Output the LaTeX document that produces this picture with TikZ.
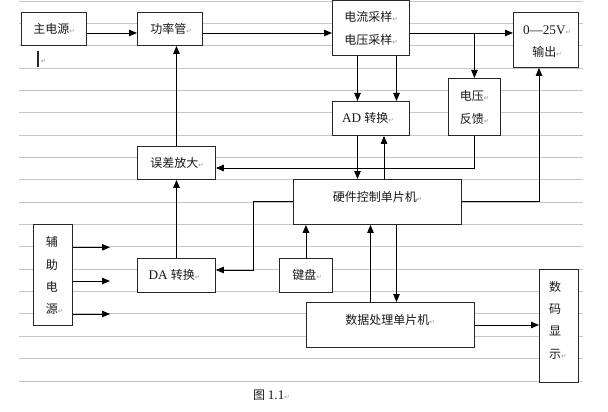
\documentclass[tikz,border=0pt]{standalone}
\usepackage{fontspec}
\setmainfont{Noto Sans CJK SC}
\newfontfamily\lat[Scale=1.1]{Liberation Serif}
\newfontfamily\symf{DejaVu Sans}
\usetikzlibrary{arrows.meta}
\newcommand\pmk{{\symf\fontsize{6.5}{6.5}\selectfont\color{black!40}↵}}
\begin{document}
\begin{tikzpicture}[x=1pt,y=-1pt,
  rule/.style={draw=black!22, line width=0.9pt},
  box/.style={draw=black!85, line width=0.9pt, fill=white, inner sep=0pt, anchor=north west},
  txt/.style={inner sep=0pt, font=\fontsize{12}{22.3}\selectfont, text=black!90, align=center},
  arr/.style={draw=black, line width=0.9pt, -{Triangle[length=8pt,width=6.5pt]}}]

\useasboundingbox (0,0) rectangle (608,412);
\fill[white] (0,0) rectangle (608,412);
\foreach \k in {0,...,17} \draw[rule] (19,{1+22.35*\k}) -- (583,{1+22.35*\k});

% boxes
\node[box, minimum width=65pt, minimum height=33pt] (zdy) at (21,12) {};
\node[box, minimum width=65pt, minimum height=33pt] (glg) at (137,12) {};
\node[box, minimum width=77pt, minimum height=54.5pt] (cy) at (332,0.5) {};
\node[box, minimum width=65pt, minimum height=55pt] (out) at (513,12) {};
\node[box, minimum width=52pt, minimum height=57pt] (fk) at (448,78) {};
\node[box, minimum width=77pt, minimum height=34pt] (ad) at (332,101) {};
\node[box, minimum width=78pt, minimum height=33pt] (wc) at (137,146) {};
\node[box, minimum width=168pt, minimum height=45pt] (yj) at (293,179) {};
\node[box, minimum width=78pt, minimum height=34pt] (da) at (137,258) {};
\node[box, minimum width=53pt, minimum height=34pt] (jp) at (279,258) {};
\node[box, minimum width=168pt, minimum height=45pt] (sj) at (306,302) {};
\node[box, minimum width=39pt, minimum height=113pt] (sm) at (539,269) {};
\node[box, minimum width=39pt, minimum height=101pt] (fz) at (33,224) {};

% free ends
\coordinate (a1) at (110,247.3);
\coordinate (a2) at (110,281);
\coordinate (a3) at (110,314);

% connectors
\draw[arr] (zdy.east |- 0,33) -- (glg.west |- 0,33);
\draw[arr] (glg.east |- 0,33) -- (cy.west |- 0,33);
\draw[arr] (cy.east |- 0,33) -- (out.west |- 0,33);
\draw[arr] (fk.north |- 0,33) -- (fk.north);
\draw[arr] (cy.south -| 357.5,0) -- (ad.north -| 357.5,0);
\draw[arr] (cy.south -| 396.5,0) -- (ad.north -| 396.5,0);
\draw[arr] (ad.south -| 357.5,0) -- (yj.north -| 357.5,0);
\draw[arr] (yj.north -| 384,0) -- (ad.south -| 384,0);
\draw[arr] (fk.south) |- (wc.east |- 0,168);
\draw[arr] (wc.north -| 176.5,0) -- (glg.south -| 176.5,0);
\draw[arr] (da.north -| 176.5,0) -- (wc.south -| 176.5,0);
\draw[arr] (yj.east |- 0,201.5) -| (out.south -| 539,0);
\draw[arr] (yj.west |- 0,201.5) -- (253,201.5) -- (253,270) -- (da.east |- 0,270);
\draw[arr] (jp.north) -- (yj.south -| jp.north);
\draw[arr] (sj.north -| 370.5,0) -- (yj.south -| 370.5,0);
\draw[arr] (yj.south -| 396.5,0) -- (sj.north -| 396.5,0);
\draw[arr] (sj.east |- 0,325) -- (sm.west |- 0,325);
\draw[arr] (fz.east |- a1) -- (a1);
\draw[arr] (fz.east |- a2) -- (a2);
\draw[arr] (fz.east |- a3) -- (a3);

% text cursor
\draw[line width=1.6pt, black!85] (38,51) -- (38,67);
\node[txt] (curm) at (43.5,61) {\pmk};

% texts
\node[txt] (tzdy) at (54,29) {主电源\pmk};
\node[txt] (tglg) at (171,29) {功率管\pmk};
\node[txt] (tcy) at (371,28.3) {电流采样\pmk\\电压采样\pmk};
\node[txt] (tout) at (547,41.7) {{\lat 0—25V}\pmk\\输出\pmk};
\node[txt] (tfk) at (474.5,107.5) {电压\pmk\\反馈\pmk};
\node[txt] (tad) at (368,118.3) {{\lat AD }转换\pmk};
\node[txt] (twc) at (177,163.3) {误差放大\pmk};
\node[txt] (tyj) at (377.5,196.7) {硬件控制单片机\pmk};
\node[txt] (tda) at (174.5,275) {{\lat DA }转换\pmk};
\node[txt] (tjp) at (307,275) {键盘\pmk};
\node[txt] (tsj) at (390,320) {数据处理单片机\pmk};
\node[txt, align=left, anchor=west] (tsm) at (549,320) {数\\码\\显\\示\pmk};
\node[txt, align=left, anchor=west] (tfz) at (45.7,275.8) {辅\\助\\电\\源\pmk};
\node[txt] (cap) at (271.5,395) {图 {\lat 1.1}\pmk};
\end{tikzpicture}
\end{document}
